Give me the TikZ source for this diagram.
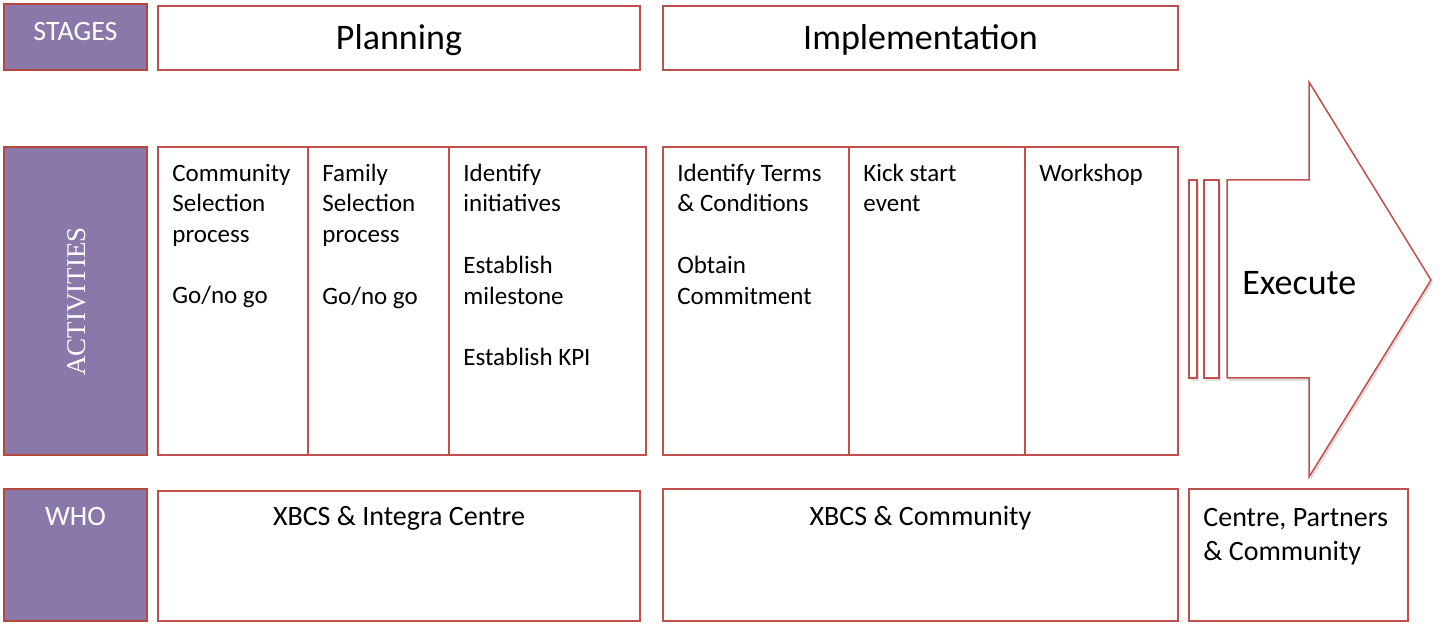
\documentclass[tikz,border=0pt]{standalone}
\usepackage{fontspec}
\setmainfont{Carlito}
\newfontfamily\actfont{Liberation Serif}
\usepackage{tikz}
\usetikzlibrary{shadows}
\definecolor{rowpurple}{HTML}{8A78AB}
\definecolor{boxred}{HTML}{C0504D}
\definecolor{darkred}{HTML}{B5473F}
\newcommand{\gapline}{\\[15.35pt]}

\begin{document}
\begin{tikzpicture}[x=0.5pt,y=-0.5pt]
    \tikzset{rowbox/.style = {draw=darkred,fill=rowpurple,line width=0.8pt,minimum width=71.5pt,inner sep=0pt}}
    \tikzset{rowtext/.style = {text=white,inner sep=0pt,font=\fontsize{14}{17}\selectfont}}
    \tikzset{cell/.style = {draw=boxred,line width=0.75pt,inner sep=0pt}}
    \tikzset{celltext/.style = {align=left,anchor=north west,inner sep=0pt,execute at begin node=\strut,font=\fontsize{12.5}{15.35}\selectfont}}
    \tikzset{whotext/.style = {align=left,anchor=base,inner sep=0pt,font=\fontsize{14}{17}\selectfont}}
    \tikzset{bigtext/.style = {font=\fontsize{18}{22}\selectfont}}
    \tikzset{shade/.style = {drop shadow={shadow xshift=1pt,shadow yshift=-1.5pt,opacity=0.25}}}
    \useasboundingbox (0,0) rectangle (1446,625);
    % row labels
    \node[rowbox,minimum height=33pt] (stages) at (75.5,37) {};
    \node[rowbox,minimum height=154pt] (activities) at (75.5,301) {};
    \node[rowbox,minimum height=66pt] (who) at (75.5,555) {};
    \node[rowtext,anchor=base] (stagesT) at (75.5,41) {STAGES};
    \node[rowtext,anchor=base,rotate=90,font=\actfont\fontsize{13.5}{16}\selectfont] (activitiesT) at (85,301.5) {ACTIVITIES};
    \node[rowtext,anchor=base] (whoT) at (75.5,525) {WHO};
    % stages
    \node[cell,minimum width=241pt,minimum height=32pt] (planning) at (399,38) {};
    \node[cell,minimum width=257.5pt,minimum height=32pt] (implementation) at (920.5,38) {};
    \node[bigtext,anchor=base,inner sep=0pt] (planningT) at (399,50) {Planning};
    \node[bigtext,anchor=base,inner sep=0pt] (implementationT) at (920.5,50) {Implementation};
    % activities
    \node[cell,minimum width=75pt,minimum height=154pt] (pA) at (233,301) {};
    \node[cell,minimum width=70.5pt,minimum height=154pt] (pB) at (378.5,301) {};
    \node[cell,minimum width=98.5pt,minimum height=154pt] (pC) at (547.5,301) {};
    \node[cell,minimum width=93pt,minimum height=154pt] (iA) at (756,301) {};
    \node[cell,minimum width=88pt,minimum height=154pt] (iB) at (937,301) {};
    \node[cell,minimum width=76.5pt,minimum height=154pt] (iC) at (1101.5,301) {};
    \node[celltext] (pAT) at (172,163.5) {Community\\Selection\\process\gapline Go/no go};
    \node[celltext] (pBT) at (322,163.5) {Family\\Selection\\process\gapline Go/no go};
    \node[celltext] (pCT) at (463,163.5) {Identify\\initiatives\gapline Establish\\milestone\gapline Establish KPI};
    \node[celltext] (iAT) at (677,163.5) {Identify Terms\\\& Conditions\gapline Obtain\\Commitment};
    \node[celltext] (iBT) at (863,163.5) {Kick start\\event};
    \node[celltext] (iCT) at (1039,159.5) {Workshop};
    % who
    \node[cell,minimum width=241pt,minimum height=65pt] (wPlan) at (399,556) {};
    \node[cell,minimum width=257.5pt,minimum height=66pt] (wImpl) at (920.5,555) {};
    \node[cell,minimum width=109.5pt,minimum height=66pt] (wExec) at (1298.5,555) {};
    \node[whotext] (wPlanT) at (399,525) {XBCS \& Integra Centre};
    \node[whotext] (wImplT) at (920.5,525) {XBCS \& Community};
    \node[whotext,anchor=north west,execute at begin node=\strut] (wExecT) at (1203,508) {Centre, Partners\\\& Community};
    % execute arrow
    \draw[cell,fill=white,shade] (1189,180) rectangle (1197,378);
    \draw[cell,fill=white,shade] (1204,180) rectangle (1219,378);
    \draw[cell,fill=white,shade] (1227,180) -- (1309,180) -- (1309,82) -- (1431,280)
        -- (1309,477) -- (1309,378) -- (1227,378) -- cycle;
    \node[bigtext,anchor=base west,inner sep=0pt] (execute) at (1242,295) {Execute};
\end{tikzpicture}
\end{document}
